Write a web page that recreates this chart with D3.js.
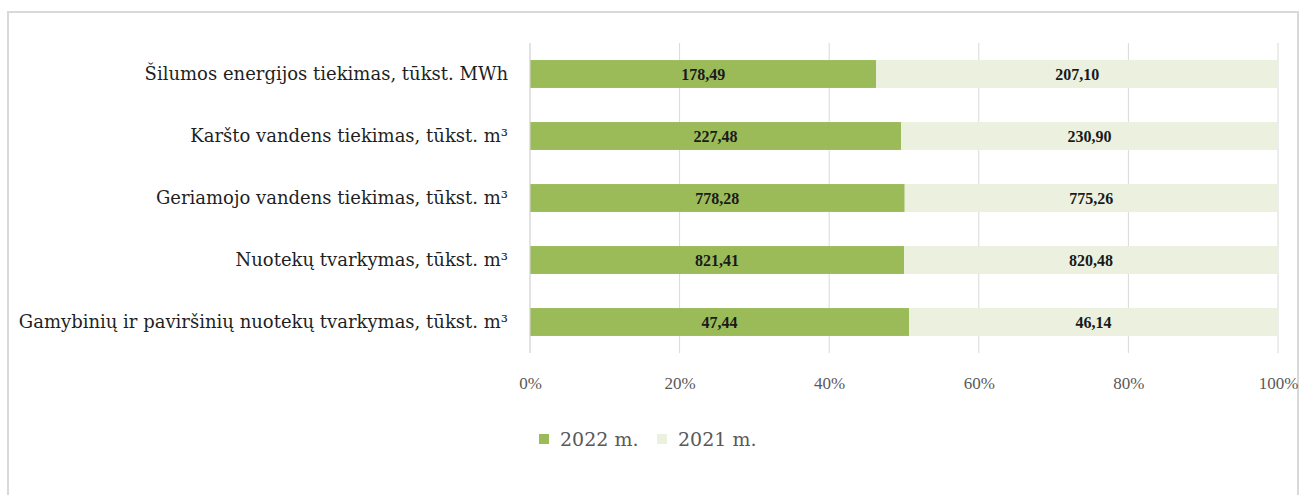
<!DOCTYPE html>
<html><head><meta charset="utf-8">
<script src="https://cdn.jsdelivr.net/npm/d3@7"></script>
<style>body{margin:0;background:#fff}svg{display:block}
.ser{font-family:"Liberation Serif","Times New Roman",serif}
.wide{font-family:"DejaVu Serif",serif}
</style>
</head><body>
<script>
const categories = [
  "Šilumos energijos tiekimas, tūkst. MWh",
  "Karšto vandens tiekimas, tūkst. m³",
  "Geriamojo vandens tiekimas, tūkst. m³",
  "Nuotekų tvarkymas, tūkst. m³",
  "Gamybinių ir paviršinių nuotekų tvarkymas, tūkst. m³"
];
const values2022 = [178.49, 227.48, 778.28, 821.41, 47.44];
const values2021 = [207.10, 230.90, 775.26, 820.48, 46.14];
const seriesNames = ["2022 m.", "2021 m."];
const tickValues = [0, 0.2, 0.4, 0.6, 0.8, 1.0];
const colors = ["#9bbb59", "#ebf1de"];

const W = 1301, H = 495;
const svg = d3.select("body").append("svg").attr("width", W).attr("height", H);
svg.append("rect").attr("x", 8).attr("y", 12).attr("width", 1290).attr("height", 490)
  .attr("fill", "#fff").attr("stroke", "#d9d9d9").attr("stroke-width", 2);

const x = d3.scaleLinear().domain([0, 1]).range([530, 1278]);
const y = d3.scaleBand().domain(categories).range([43, 353]).paddingInner(0.55).paddingOuter(0.275);

const fmt = v => v.toFixed(2).replace(".", ",");

svg.append("g").selectAll("line").data(tickValues).join("line")
  .attr("x1", d => x(d)).attr("x2", d => x(d)).attr("y1", 43).attr("y2", 353)
  .attr("stroke", "#d9d9d9").attr("stroke-width", 1);

const rows = categories.map((c, i) => {
  const t = values2022[i] + values2021[i];
  return {c, a: values2022[i], b: values2021[i], pa: values2022[i] / t};
});

const g = svg.append("g");
g.selectAll("rect.a").data(rows).join("rect").attr("class", "a")
  .attr("x", x(0)).attr("y", d => y(d.c)).attr("width", d => x(d.pa) - x(0))
  .attr("height", y.bandwidth()).attr("fill", colors[0]);
g.selectAll("rect.b").data(rows).join("rect").attr("class", "b")
  .attr("x", d => x(d.pa)).attr("y", d => y(d.c)).attr("width", d => x(1) - x(d.pa))
  .attr("height", y.bandwidth()).attr("fill", colors[1]);

function dataLabel(sel, cx, val) {
  sel.attr("class", "ser")
    .attr("transform", d => `translate(${cx(d)},${y(d.c) + y.bandwidth() / 2})`)
    .attr("dy", "0.35em").attr("text-anchor", "middle")
    .style("font-weight", "bold").style("font-size", "16px")
    .attr("fill", "#1a1a1a").text(d => fmt(val(d)));
}
g.selectAll("text.a").data(rows).join("text").call(dataLabel, d => (x(0) + x(d.pa)) / 2, d => d.a);
g.selectAll("text.b").data(rows).join("text").call(dataLabel, d => (x(d.pa) + x(1)) / 2, d => d.b);

const yAxis = svg.append("g").attr("transform", "translate(530,0)")
  .call(d3.axisLeft(y).tickSize(0).tickPadding(22));
yAxis.attr("font-family", null).attr("font-size", null);
yAxis.select(".domain").remove();
yAxis.selectAll("text").attr("class", "wide").style("font-size", "18px").attr("fill", "#1f1f1f");

svg.append("line").attr("x1", 530).attr("x2", 530).attr("y1", 43).attr("y2", 353)
  .attr("stroke", "#d9d9d9");

const xAxis = svg.append("g").attr("transform", "translate(0,353)")
  .call(d3.axisBottom(x).tickValues(tickValues).tickFormat(d3.format(".0%")).tickSize(0).tickPadding(24));
xAxis.attr("font-family", null).attr("font-size", null);
xAxis.select(".domain").remove();
xAxis.selectAll("text").attr("class", "ser").style("font-size", "17px").attr("fill", "#595959");

const leg = svg.append("g");
const legX = [539, 657];
seriesNames.forEach((n, i) => {
  leg.append("rect").attr("x", legX[i]).attr("y", 434).attr("width", 10).attr("height", 10).attr("fill", colors[i]);
  leg.append("text").attr("class", "wide").attr("x", legX[i] + 21).attr("y", 439).attr("dy", "0.35em")
    .style("font-size", "19px").attr("fill", "#595959").text(n);
});
</script>
</body></html>
